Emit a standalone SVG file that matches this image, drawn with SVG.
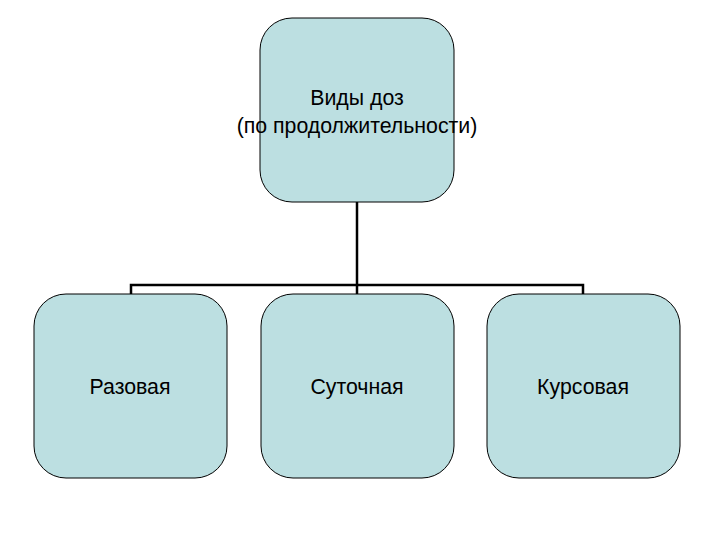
<svg xmlns="http://www.w3.org/2000/svg" width="720" height="540" viewBox="0 0 720 540">
<style>
.box{fill:#BCDFE1;stroke:#000;stroke-width:1}
.t{font-family:"Liberation Sans",Arial,sans-serif;font-size:21.3px;fill:#000;text-anchor:middle}
.c{fill:none;stroke:#000;stroke-width:2.5}
</style>
<rect width="720" height="540" fill="#fff"/>
<g id="connectors">
<path class="c" d="M357 202 V294" stroke-width="3.5"/>
<path class="c" d="M131 294 V285 H583 V294"/>
</g>
<g id="root">
<rect class="box" x="260" y="18" width="194" height="184" rx="32"/>
<text class="t" x="357" y="105">Виды доз</text>
<text class="t" x="357" y="133">(по продолжительности)</text>
</g>
<g id="n1">
<rect class="box" x="34" y="294" width="193" height="184" rx="32"/>
<text class="t" x="130" y="394">Разовая</text>
</g>
<g id="n2">
<rect class="box" x="261" y="294" width="193" height="184" rx="32"/>
<text class="t" x="357" y="394">Суточная</text>
</g>
<g id="n3">
<rect class="box" x="487" y="294" width="193" height="184" rx="32"/>
<text class="t" x="583" y="394">Курсовая</text>
</g>
</svg>
